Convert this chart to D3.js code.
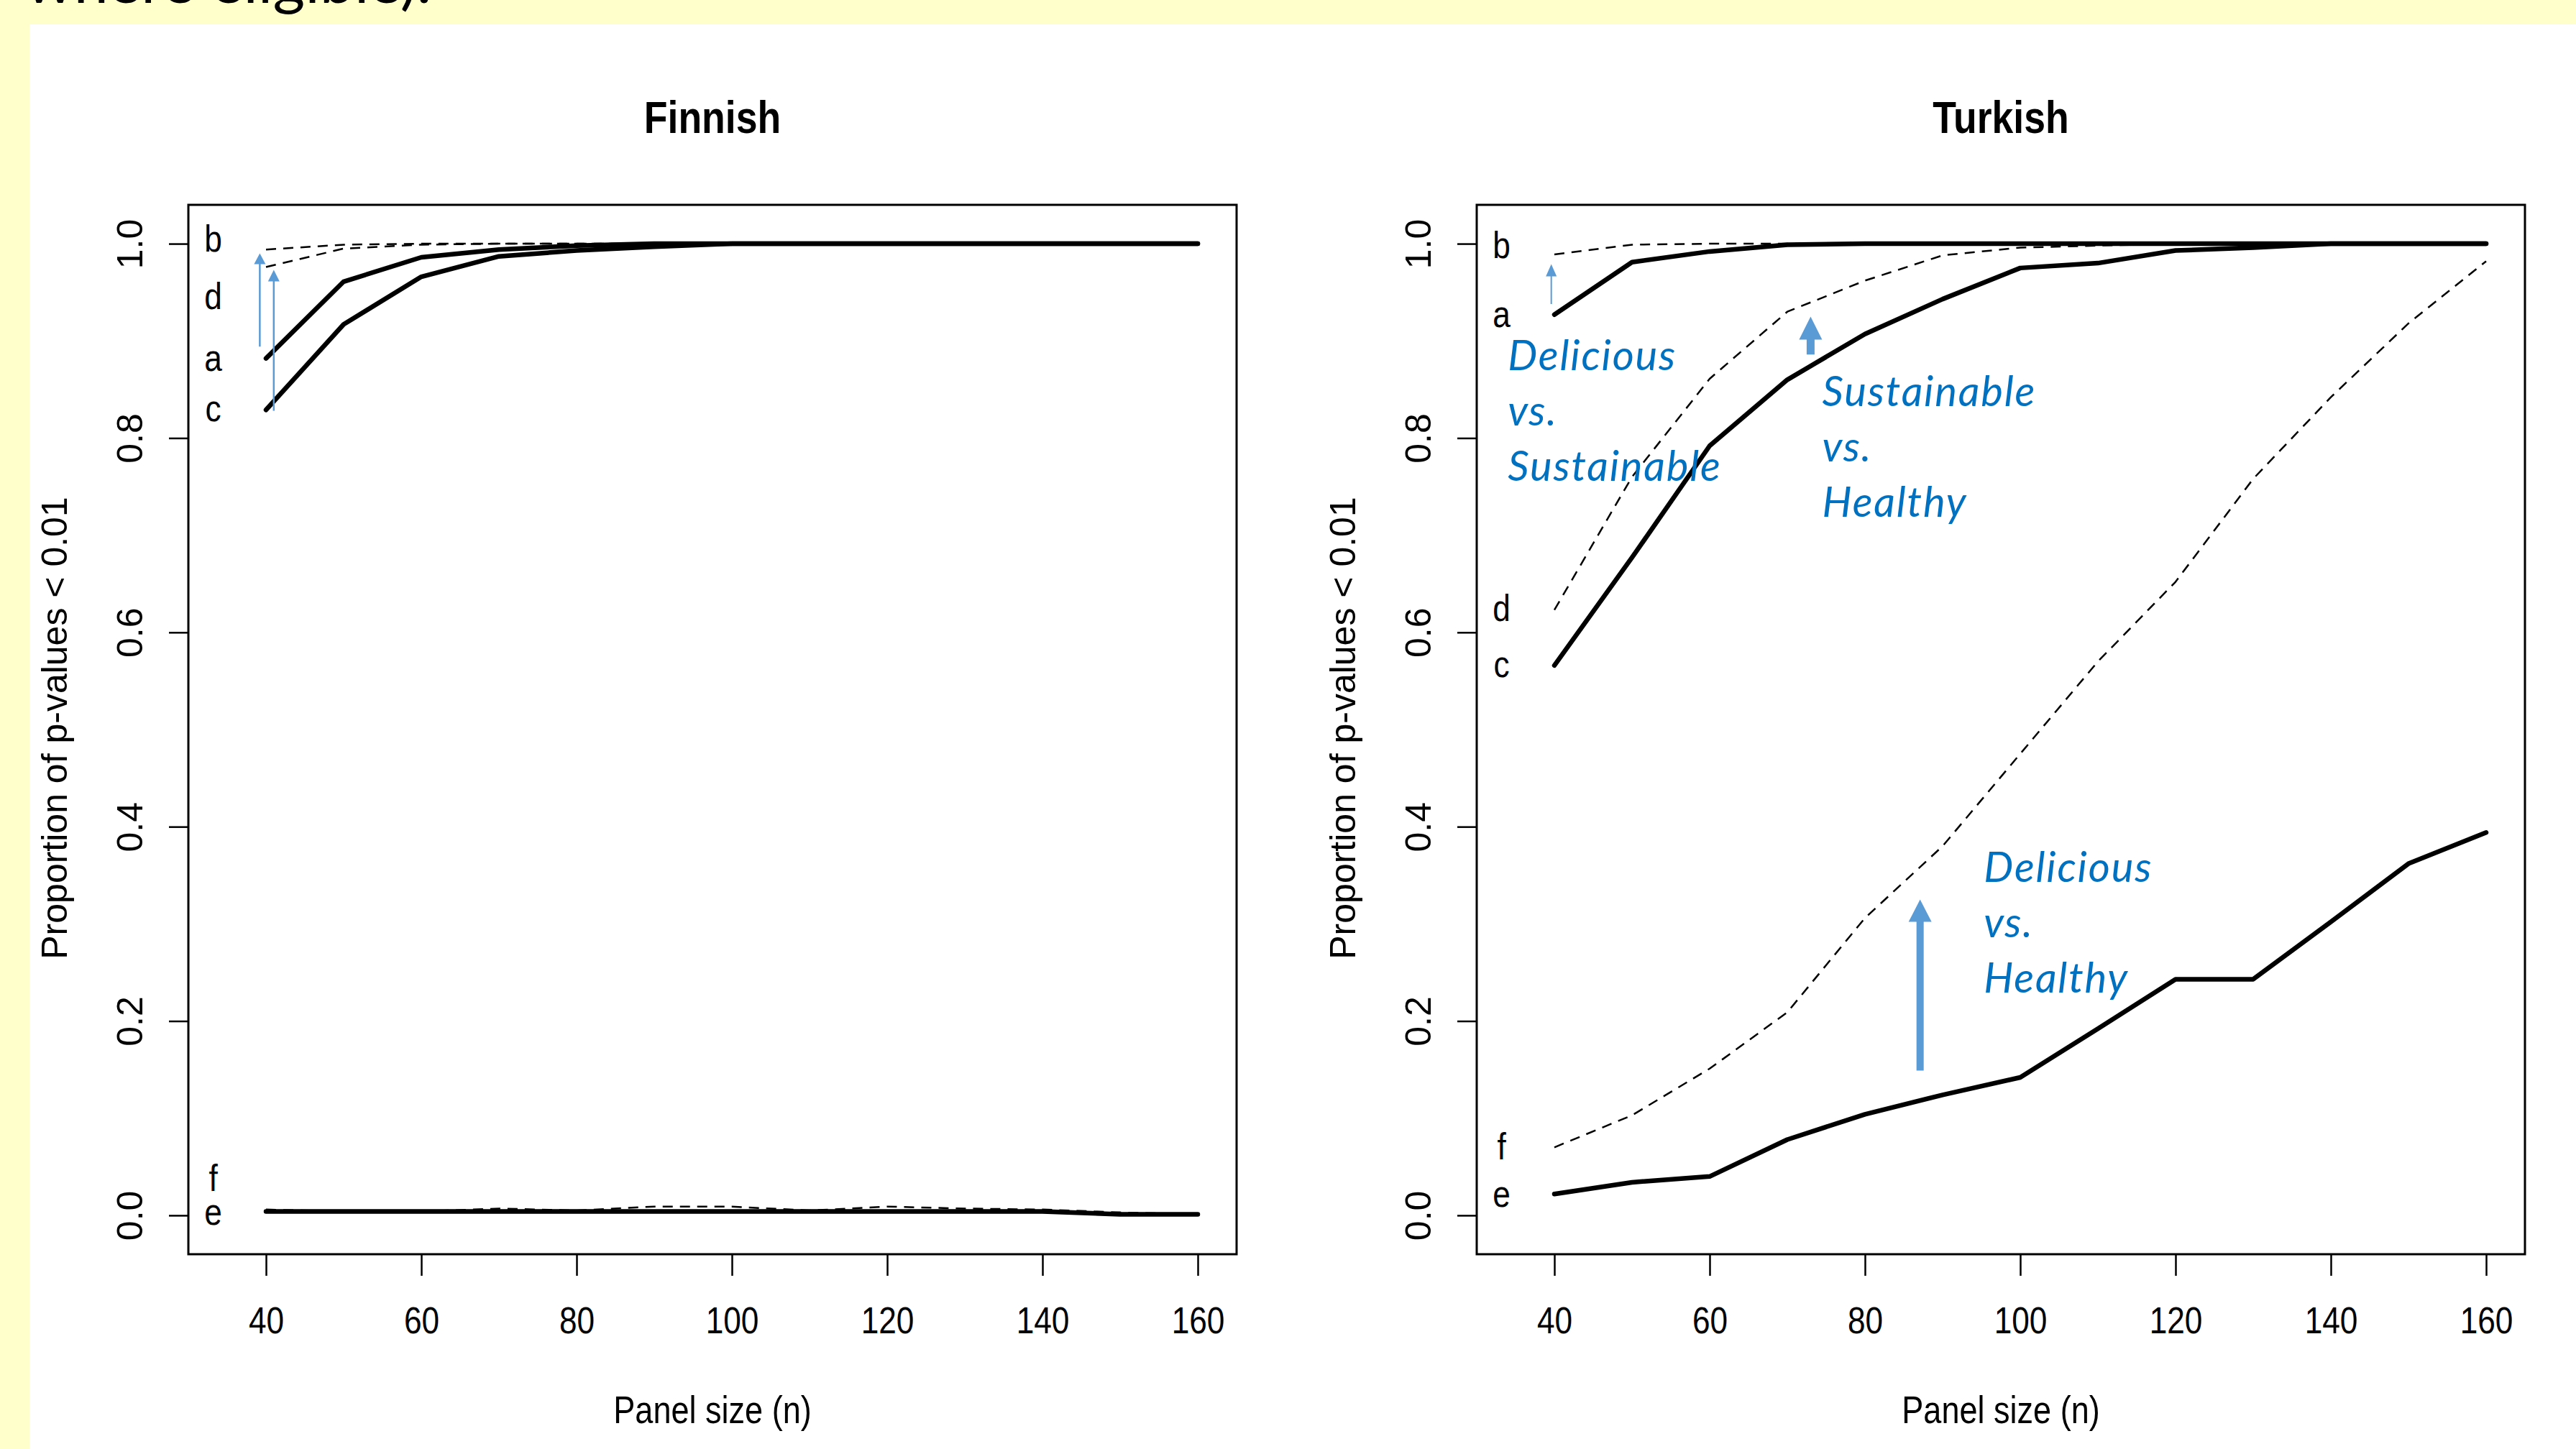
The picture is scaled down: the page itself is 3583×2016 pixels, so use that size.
<!DOCTYPE html>
<html>
<head>
<meta charset="utf-8">
<script src="https://cdn.jsdelivr.net/npm/d3@7"></script>
<style>
  html, body { margin: 0; padding: 0; background: #FFFFCC; overflow: hidden; }
  svg { display: block; }
</style>
</head>
<body>
<svg id="chart" width="3583" height="2016"></svg>
<script>
// ---------------- DATA ----------------
const panelSizes = [40, 50, 60, 70, 80, 90, 100, 110, 120, 130, 140, 150, 160];

const finnishA = [0.882, 0.961, 0.986, 0.994, 0.998, 1, 1, 1, 1, 1, 1, 1, 1];
const finnishB = [0.994, 0.999, 1, 1, 1, 1, 1, 1, 1, 1, 1, 1, 1];
const finnishC = [0.829, 0.917, 0.966, 0.987, 0.993, 0.997, 1, 1, 1, 1, 1, 1, 1];
const finnishD = [0.976, 0.995, 0.999, 1, 1, 1, 1, 1, 1, 1, 1, 1, 1];
const finnishE = [0.004, 0.004, 0.004, 0.004, 0.004, 0.004, 0.004, 0.004, 0.004, 0.004, 0.004, 0.001, 0.001];
const finnishF = [0.006, 0.004, 0.004, 0.007, 0.005, 0.009, 0.009, 0.005, 0.009, 0.007, 0.006, 0.003, 0.001];

const turkishA = [0.927, 0.981, 0.992, 0.999, 1, 1, 1, 1, 1, 1, 1, 1, 1];
const turkishB = [0.989, 0.999, 1, 1, 1, 1, 1, 1, 1, 1, 1, 1, 1];
const turkishC = [0.566, 0.677, 0.792, 0.860, 0.907, 0.943, 0.975, 0.980, 0.993, 0.996, 1, 1, 1];
const turkishD = [0.623, 0.760, 0.861, 0.930, 0.962, 0.988, 0.996, 0.998, 1, 1, 1, 1, 1];
const turkishE = [0.022, 0.034, 0.040, 0.078, 0.104, 0.124, 0.142, 0.192, 0.243, 0.243, 0.302, 0.362, 0.394];
const turkishF = [0.070, 0.103, 0.151, 0.209, 0.306, 0.380, 0.475, 0.570, 0.652, 0.758, 0.842, 0.918, 0.982];

const seriesNames = ["a", "b", "c", "d", "e", "f"];
const seriesDashed = [false, true, false, true, false, true];

const xTicks = [40, 60, 80, 100, 120, 140, 160];
const yTicks = [0, 0.2, 0.4, 0.6, 0.8, 1.0];
const yTickLabels = ["0.0", "0.2", "0.4", "0.6", "0.8", "1.0"];

const panelTitles = ["Finnish", "Turkish"];
const xAxisTitle = "Panel size (n)";
const yAxisTitle = "Proportion of p-values < 0.01";

// curve letter labels (data coordinates of the letter baseline)
const finnishLabelText = ["b", "d", "a", "c", "f", "e"];
const finnishLabelY = [0.992, 0.933, 0.869, 0.817, 0.025, -0.010];
const turkishLabelText = ["b", "a", "d", "c", "f", "e"];
const turkishLabelY = [0.985, 0.914, 0.612, 0.554, 0.058, 0.009];
const labelN = 33.2;

// annotation arrows (data coordinates: panel size, from value, to value)
const finnishArrowN = [39.2, 41.0];
const finnishArrowFrom = [0.894, 0.828];
const finnishArrowTo = [0.990, 0.973];
const turkishArrowN = [39.6, 73.0, 87.1];
const turkishArrowFrom = [0.938, 0.886, 0.149];
const turkishArrowTo = [0.979, 0.925, 0.325];

// annotation notes (Turkish panel)
const turkishNoteLines = [["Delicious", "vs.", "Sustainable"], ["Sustainable", "vs.", "Healthy"], ["Delicious", "vs.", "Healthy"]];
const turkishNoteN = [34.0, 74.5, 95.3];
const turkishNoteY = [0.870, 0.833, 0.343];

const slideText = "where eligible).";

// ---------------- STYLE / LAYOUT ----------------
const W = 3583, H = 2016;
const plotW = 1458, plotH = 1460, plotTop = 285;
const panelLeft = [262, 2054];
const rFont = "'Liberation Sans', Arial, Helvetica, sans-serif";
const squeeze = 0.85;
const blueArrow = "#5B9BD5";
const blueText = "#0070C0";

const svg = d3.select("#chart");

svg.append("rect").attr("x", 0).attr("y", 0).attr("width", W).attr("height", H).attr("fill", "#FFFFCC");
svg.append("rect").attr("x", 41).attr("y", 34).attr("width", W - 41).attr("height", H - 34).attr("fill", "#FFFFFF");

svg.append("text")
  .attr("x", 600).attr("y", 4)
  .attr("text-anchor", "end")
  .attr("font-family", "Lato, 'Open Sans', sans-serif")
  .attr("font-size", 86)
  .attr("fill", "#000")
  .text(slideText);

const x = d3.scaleLinear().domain([30, 165]).range([0, plotW]);
const y = d3.scaleLinear().domain([-0.04, 1.04]).range([plotH, 0]);

function hText(g, str, px, py, size, weight, anchor) {
  return g.append("text")
    .attr("transform", `translate(${px},${py}) scale(${squeeze},1)`)
    .attr("text-anchor", anchor || "middle")
    .attr("font-family", rFont)
    .attr("font-size", size)
    .attr("font-weight", weight || "normal")
    .attr("fill", "#000")
    .text(str);
}

function arrowPath(px, y1, y2, st) {
  const hs = st.sw / 2, hh = st.hw / 2, yb = y2 + st.hl;
  return `M${px - hs},${y1} L${px - hs},${yb} L${px - hh},${yb} L${px},${y2} L${px + hh},${yb} L${px + hs},${yb} L${px + hs},${y1} Z`;
}

function drawPanel(idx, series, labelText, labelY, arrN, arrFrom, arrTo, arrStyles, notes) {
  const g = svg.append("g").attr("transform", `translate(${panelLeft[idx]},${plotTop})`);

  // title
  hText(g, panelTitles[idx], plotW / 2, -100, 63, "bold");

  // x axis
  const xa = g.append("g").attr("transform", `translate(0,${plotH})`)
    .call(d3.axisBottom(x).tickValues(xTicks).tickSize(30).tickFormat(d3.format("d")));
  xa.select(".domain").remove();
  xa.selectAll(".tick line").attr("stroke", "#000").attr("stroke-width", 2.5);
  xa.selectAll(".tick text")
    .attr("y", null).attr("dy", null)
    .attr("transform", `translate(0,110) scale(${squeeze},1)`)
    .attr("font-family", rFont).attr("font-size", 52).attr("fill", "#000");

  // y axis
  const ya = g.append("g")
    .call(d3.axisLeft(y).tickValues(yTicks).tickSize(27).tickFormat((d, i) => yTickLabels[i]));
  ya.select(".domain").remove();
  ya.selectAll(".tick line").attr("stroke", "#000").attr("stroke-width", 2.5);
  ya.selectAll(".tick text")
    .attr("x", null).attr("dy", null)
    .attr("transform", "translate(-64,0) rotate(-90)")
    .attr("text-anchor", "middle")
    .attr("font-family", rFont).attr("font-size", 50).attr("fill", "#000");

  // axis titles
  hText(g, xAxisTitle, plotW / 2, 1695, 53);
  g.append("text")
    .attr("transform", `translate(-169,${plotH / 2 - 2}) rotate(-90)`)
    .attr("text-anchor", "middle")
    .attr("font-family", rFont).attr("font-size", 50).attr("fill", "#000")
    .text(yAxisTitle);

  // lines: dashed first, solid on top
  const line = d3.line().x((d, i) => x(panelSizes[i])).y(d => y(d));
  const order = [1, 3, 5, 0, 2, 4];
  order.forEach(k => {
    g.append("path")
      .datum(series[k])
      .attr("d", line)
      .attr("fill", "none")
      .attr("stroke", "#000")
      .attr("stroke-width", seriesDashed[k] ? 2.5 : 6.5)
      .attr("stroke-dasharray", seriesDashed[k] ? "14,10" : null)
      .attr("stroke-linejoin", "round")
      .attr("stroke-linecap", seriesDashed[k] ? "butt" : "round");
  });

  // letter labels
  labelText.forEach((t, i) => hText(g, t, x(labelN), y(labelY[i]), 52));

  // box
  g.append("rect").attr("x", 0).attr("y", 0).attr("width", plotW).attr("height", plotH)
    .attr("fill", "none").attr("stroke", "#000").attr("stroke-width", 3);

  // arrows
  arrN.forEach((n, i) => {
    g.append("path")
      .attr("d", arrowPath(x(n), y(arrFrom[i]), y(arrTo[i]), arrStyles[i]))
      .attr("fill", blueArrow);
  });

  // notes
  if (notes) {
    notes.lines.forEach((lines, i) => {
      const t = g.append("text")
        .attr("font-family", "Lato, 'Open Sans', sans-serif")
        .attr("font-style", "italic")
        .attr("font-size", 58)
        .attr("letter-spacing", 1.8)
        .attr("fill", blueText);
      lines.forEach((s, j) => {
        t.append("tspan").attr("x", x(notes.n[i])).attr("y", y(notes.v[i]) + j * 77).text(s);
      });
    });
  }
}

drawPanel(0,
  [finnishA, finnishB, finnishC, finnishD, finnishE, finnishF],
  finnishLabelText, finnishLabelY,
  finnishArrowN, finnishArrowFrom, finnishArrowTo,
  [{sw: 2.5, hw: 16, hl: 15}, {sw: 2.5, hw: 16, hl: 16}],
  null);

drawPanel(1,
  [turkishA, turkishB, turkishC, turkishD, turkishE, turkishF],
  turkishLabelText, turkishLabelY,
  turkishArrowN, turkishArrowFrom, turkishArrowTo,
  [{sw: 2, hw: 15, hl: 17}, {sw: 11, hw: 32, hl: 32}, {sw: 10, hw: 32, hl: 31}],
  {lines: turkishNoteLines, n: turkishNoteN, v: turkishNoteY});
</script>
</body>
</html>
